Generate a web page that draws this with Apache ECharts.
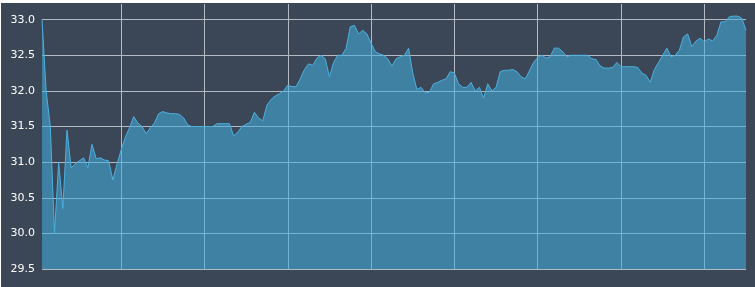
<!DOCTYPE html>
<html>
<head>
<meta charset="utf-8">
<script src="https://cdn.jsdelivr.net/npm/echarts@6/dist/echarts.min.js"></script>
<style>
  html, body { margin: 0; padding: 0; background: #ffffff; width: 755px; height: 287px; overflow: hidden; }
  #chart { position: absolute; left: 1px; top: 3px; width: 754px; height: 284px; }
</style>
</head>
<body>
<div id="chart"></div>
<script>
// y-axis tick labels
const yTicks = [29.5, 30.0, 30.5, 31.0, 31.5, 32.0, 32.5, 33.0];

// series values (one per period)
const values = [
  33.00, 32.00, 31.50, 30.00, 31.00, 30.35, 31.45, 30.92, 30.98, 31.02,
  31.06, 30.92, 31.25, 31.05, 31.06, 31.03, 31.02, 30.75, 30.97, 31.17,
  31.35, 31.48, 31.64, 31.55, 31.50, 31.40, 31.48, 31.55, 31.68, 31.71,
  31.69, 31.68, 31.68, 31.67, 31.62, 31.52, 31.50, 31.50, 31.50, 31.50,
  31.50, 31.50, 31.54, 31.54, 31.54, 31.54, 31.37, 31.42, 31.50, 31.53,
  31.56, 31.70, 31.62, 31.58, 31.80, 31.88, 31.93, 31.96, 32.00, 32.08,
  32.06, 32.06, 32.17, 32.30, 32.38, 32.36, 32.46, 32.50, 32.45, 32.20,
  32.40, 32.50, 32.50, 32.60, 32.90, 32.92, 32.80, 32.85, 32.80, 32.67,
  32.55, 32.52, 32.50, 32.45, 32.35, 32.45, 32.48, 32.50, 32.60, 32.25,
  32.02, 32.05, 31.97, 31.98, 32.10, 32.12, 32.15, 32.17, 32.27, 32.25,
  32.10, 32.05, 32.05, 32.12, 32.00, 32.05, 31.90, 32.10, 32.00, 32.05,
  32.27, 32.29, 32.29, 32.30, 32.27, 32.20, 32.17, 32.28, 32.40, 32.47,
  32.50, 32.46, 32.48, 32.60, 32.60, 32.55, 32.48, 32.50, 32.50, 32.50,
  32.50, 32.50, 32.45, 32.44, 32.35, 32.32, 32.32, 32.33, 32.40, 32.34,
  32.34, 32.34, 32.34, 32.33, 32.25, 32.22, 32.12, 32.30, 32.40, 32.50,
  32.60, 32.48, 32.50, 32.57, 32.76, 32.80, 32.62, 32.70, 32.74, 32.69,
  32.73, 32.70, 32.78, 32.97, 32.97, 33.04, 33.05, 33.05, 33.02, 32.85
];

// categories (periods)
const categories = values.map((_, i) => String(i + 1));

// which categories carry a vertical grid line
const gridStart = 19;
const gridEvery = 20;

const chart = echarts.init(document.getElementById('chart'), null, { renderer: 'canvas' });
chart.setOption({
  animation: false,
  backgroundColor: '#3b4757',
  grid: { left: 41, right: 9, top: 1, bottom: 18, containLabel: false, outerBoundsMode: 'none' },
  xAxis: {
    type: 'category',
    data: categories,
    boundaryGap: false,
    axisLine: { show: false },
    axisTick: { show: false },
    axisLabel: { show: false },
    splitLine: {
      show: true,
      interval: function (idx) { return idx >= gridStart && (idx - gridStart) % gridEvery === 0; },
      lineStyle: { color: '#b3bac3', width: 1 }
    }
  },
  yAxis: {
    type: 'value',
    min: yTicks[0],
    max: 33.22,
    interval: 0.5,
    axisLine: { show: false },
    axisTick: { show: false },
    axisLabel: {
      show: true,
      showMaxLabel: false,
      margin: 7,
      color: '#ffffff',
      fontFamily: 'DejaVu Sans',
      fontSize: 11,
      formatter: function (v) { return yTicks.some(t => Math.abs(t - v) < 1e-6) ? v.toFixed(1) : ''; }
    },
    splitLine: {
      show: true,
      showMaxLine: false,
      lineStyle: { color: '#b3bac3', width: 1 }
    }
  },
  series: [{
    type: 'line',
    data: values,
    showSymbol: false,
    symbol: 'none',
    smooth: false,
    lineStyle: { color: '#4cb0e0', width: 1 },
    areaStyle: { color: 'rgba(66,174,222,0.8)', origin: 'start' }
  }]
});
</script>
</body>
</html>
